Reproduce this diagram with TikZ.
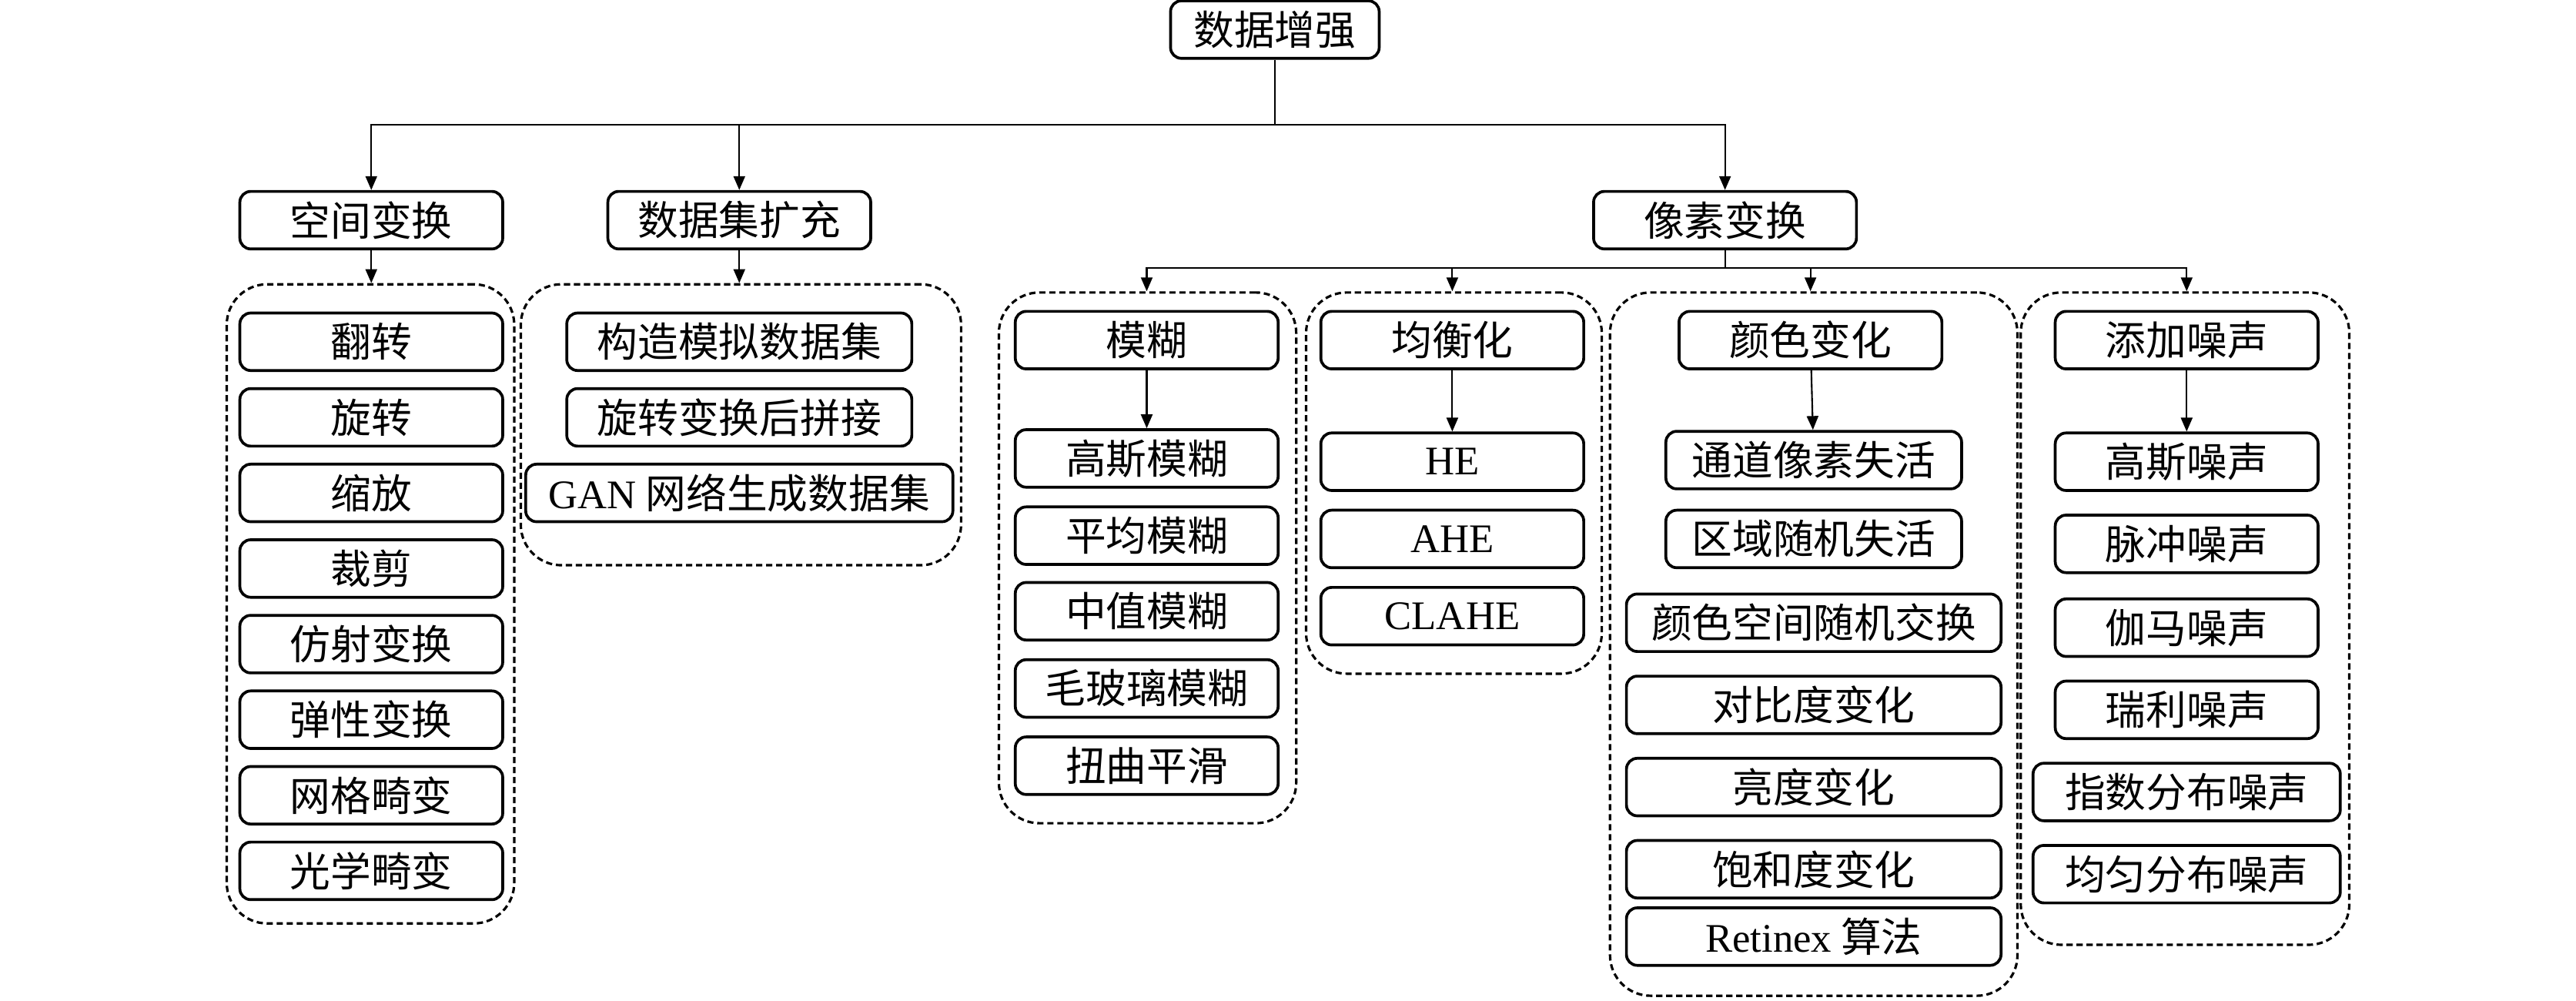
\documentclass[tikz,border=0pt]{standalone}
\usepackage{fontspec}
\setmainfont{Noto Sans CJK SC}
\newfontfamily\latin{Liberation Serif}
\usetikzlibrary{arrows.meta}
\newcommand{\dpx}{0.2134mm}
\tikzset{
  box/.style={draw, line width=1.05pt, rounded corners=4pt, minimum width=160*\dpx,
    minimum height=35*\dpx, inner sep=0pt, font=\fontsize{15}{18}\selectfont},
  grp/.style={draw, line width=0.9pt, dash pattern=on 2.3pt off 1.4pt,
    rounded corners=15pt, inner sep=0pt},
}

\begin{document}
\begin{tikzpicture}[x=\dpx, y=-\dpx, line width=0.6pt,
    >={Triangle[length=1.8mm,width=1.5mm]}]
        \useasboundingbox (0,0) rectangle (1568,609);
        \node[box, minimum width=127*\dpx] (root) at (776,18) {数据增强};
        \node[box] (kj) at (226,134) {空间变换};
        \node[box] (sjj) at (450,134) {数据集扩充};
        \node[box] (xs) at (1050,134) {像素变换};

        \node[grp, minimum width=175*\dpx, minimum height=389*\dpx] (g1) at (225.5,367.5) {};
        \node[grp, minimum width=268*\dpx, minimum height=171*\dpx] (g2) at (451,258.5) {};
        \node[grp, minimum width=181*\dpx, minimum height=323*\dpx] (g3) at (698.5,339.5) {};
        \node[grp, minimum width=180*\dpx, minimum height=232*\dpx] (g4) at (885,294) {};
        \node[grp, minimum width=248*\dpx, minimum height=428*\dpx] (g5) at (1104,392) {};
        \node[grp, minimum width=200*\dpx, minimum height=397*\dpx] (g6) at (1330,376.5) {};

        % 空间变换
        \node[box] (fz) at (226,208) {翻转};
        \node[box] (xz) at (226,254) {旋转};
        \node[box] (sf) at (226,300) {缩放};
        \node[box] (cj) at (226,346) {裁剪};
        \node[box] (fsbh) at (226,392) {仿射变换};
        \node[box] (txbh) at (226,438) {弹性变换};
        \node[box] (wgjb) at (226,484) {网格畸变};
        \node[box] (gxjb) at (226,530) {光学畸变};

        % 数据集扩充
        \node[box, minimum width=210*\dpx] (gzmn) at (450,208) {构造模拟数据集};
        \node[box, minimum width=210*\dpx] (xzpj) at (450,254) {旋转变换后拼接};
        \node[box, minimum width=260*\dpx] (gan) at (450,300) {{\latin GAN} 网络生成数据集};

        % 像素变换
        \node[box] (mh) at (698,207) {模糊};
        \node[box] (gsmh) at (698,279) {高斯模糊};
        \node[box] (pjmh) at (698,326) {平均模糊};
        \node[box] (zzmh) at (698,372) {中值模糊};
        \node[box] (mblmh) at (698,419) {毛玻璃模糊};
        \node[box] (nqph) at (698,466) {扭曲平滑};

        \node[box] (jhh) at (884,207) {均衡化};
        \node[box] (he) at (884,281) {\latin HE};
        \node[box] (ahe) at (884,328) {\latin AHE};
        \node[box] (clahe) at (884,375) {\latin CLAHE};

        \node[box] (ysbh) at (1102,207) {颜色变化};
        \node[box, minimum width=180*\dpx] (tdsx) at (1104,280) {通道像素失活};
        \node[box, minimum width=180*\dpx] (qysx) at (1104,328) {区域随机失活};
        \node[box, minimum width=228*\dpx] (ysjh) at (1104,379) {颜色空间随机交换};
        \node[box, minimum width=228*\dpx] (dbd) at (1104,429) {对比度变化};
        \node[box, minimum width=228*\dpx] (ldbh) at (1104,479) {亮度变化};
        \node[box, minimum width=228*\dpx] (bhd) at (1104,529) {饱和度变化};
        \node[box, minimum width=228*\dpx] (retinex) at (1104,570) {{\latin Retinex} 算法};

        \node[box] (tjzs) at (1331,207) {添加噪声};
        \node[box] (gszs) at (1331,281) {高斯噪声};
        \node[box] (mczs) at (1331,331) {脉冲噪声};
        \node[box] (gmzs) at (1331,382) {伽马噪声};
        \node[box] (rlzs) at (1331,432) {瑞利噪声};
        \node[box, minimum width=187*\dpx] (zszs) at (1331,482) {指数分布噪声};
        \node[box, minimum width=187*\dpx] (jyzs) at (1331,532) {均匀分布噪声};

        % connectors
        \coordinate (j1) at (776,76);
        \draw (root) -- (j1);
        \draw[->] (j1) -| (kj);
        \draw[->] (j1) -| (sjj);
        \draw[->] (j1) -| (xs);
        \draw[->] (kj) -- (kj |- g1.north);
        \draw[->] (sjj) -- (sjj |- g2.north);
        \coordinate (j2) at (1050,163);
        \draw (xs) -- (j2);
        \draw[->] (j2) -| (mh |- g3.north);
        \draw[->] (j2) -| (jhh |- g4.north);
        \draw[->] (j2) -| (ysbh |- g5.north);
        \draw[->] (j2) -| (tjzs |- g6.north);
        \draw[->] (mh) -- (gsmh);
        \draw[->] (jhh) -- (he);
        \draw[->] (ysbh) -- (tdsx);
        \draw[->] (tjzs) -- (gszs);

      \end{tikzpicture}
\end{document}
